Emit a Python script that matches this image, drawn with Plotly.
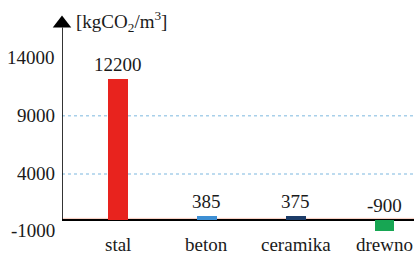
import plotly.graph_objects as go

categories = ["stal", "beton", "ceramika", "drewno"]
values = [12200, 385, 375, -900]
bar_colors = ["#e8231e", "#3d8fd4", "#1c3c68", "#17a653"]
y_tick_vals = [-1000, 4000, 9000, 14000]
y_tick_text = ["-1000", "4000", "9000", "14000"]
grid_vals = [4000, 9000]
y_title = "[kgCO<sub>2</sub>/m<sup>3</sup>]"

FONT = "serif"
TXT = dict(family=FONT, size=19, color="#1a1a1a")
X_RANGE = [-0.63, 3.33]
Y_RANGE = [-1000, 17500]

fig = go.Figure()
fig.add_trace(go.Bar(
    x=list(range(len(categories))), y=values, marker_color=bar_colors,
    width=0.22, marker_line_width=0, showlegend=False, hoverinfo="skip",
))

# y-axis arrow (vertical line from zero up, with triangle head)
fig.add_trace(go.Scatter(
    x=[X_RANGE[0], X_RANGE[0]], y=[0, 16600], mode="lines",
    line=dict(color="black", width=1.6), showlegend=False, hoverinfo="skip",
    cliponaxis=False,
))
fig.add_trace(go.Scatter(
    x=[X_RANGE[0]], y=[16950], mode="markers",
    marker=dict(symbol="triangle-up", size=16, color="black"),
    showlegend=False, hoverinfo="skip", cliponaxis=False,
))

for g in grid_vals:
    fig.add_shape(type="line", xref="x domain", x0=0, x1=1, yref="y", y0=g, y1=g,
                  line=dict(color="#a8d0ea", width=1.5, dash="dot"), layer="below")
# faint orange line just above the baseline
fig.add_shape(type="line", xref="x domain", x0=0, x1=1, yref="y", y0=170, y1=170,
              line=dict(color="rgba(240,140,110,0.45)", width=1), layer="below")

# value labels
for i, v in enumerate(values):
    fig.add_annotation(x=i, y=max(v, 0), text=str(v), showarrow=False,
                       yanchor="bottom", yshift=2, font=TXT)

# y tick labels
for tv, tt in zip(y_tick_vals, y_tick_text):
    fig.add_annotation(xref="paper", x=0, y=tv, text=tt, showarrow=False,
                       xanchor="right", yanchor="middle", xshift=-5,
                       yshift=2 if tv == y_tick_vals[0] else 0, font=TXT)

# x category labels
for i, c in enumerate(categories):
    fig.add_annotation(x=i, yref="paper", y=0, text=c, showarrow=False,
                       yanchor="top", yshift=0, font=TXT)

fig.add_annotation(xref="paper", yref="paper", x=0.035, y=1.0, xanchor="left",
                   yanchor="middle", yshift=-4, text=y_title, showarrow=False,
                   font=TXT)

fig.update_layout(
    width=414, height=256,
    margin=dict(l=62, r=0, t=17, b=24),
    paper_bgcolor="white", plot_bgcolor="white",
    font=dict(family=FONT),
    bargap=0,
    xaxis=dict(range=X_RANGE, showticklabels=False, showgrid=False,
               zeroline=False, showline=False, ticks="", automargin=False),
    yaxis=dict(range=Y_RANGE, showticklabels=False, showgrid=False,
               automargin=False, zeroline=True, zerolinecolor="black",
               zerolinewidth=2.2, showline=False, ticks=""),
)

fig.write_html("out.html", config={"displayModeBar": False},
               post_script="document.body.style.margin='0';document.body.style.padding='0';")
